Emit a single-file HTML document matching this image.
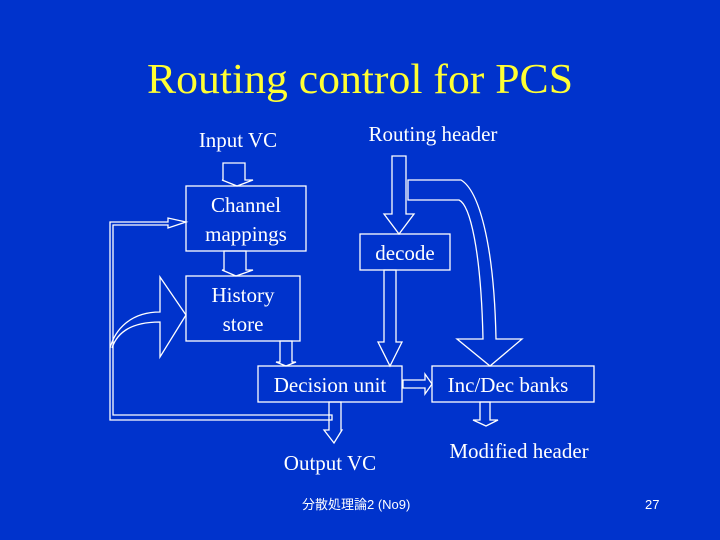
<!DOCTYPE html>
<html><head><meta charset="utf-8"><style>
html,body{margin:0;padding:0;background:#0033cc;width:720px;height:540px;overflow:hidden}
svg{display:block}
text{font-family:"Liberation Serif",serif;fill:#fff}
</style></head><body>
<svg width="720" height="540" viewBox="0 0 720 540">
<rect width="720" height="540" fill="#0033cc"/>
<text x="147" y="93" font-size="42" style="fill:#ffff33" textLength="426" lengthAdjust="spacingAndGlyphs">Routing control for PCS</text>
<g fill="none" stroke="#fff" stroke-width="1.3">
<rect x="186" y="186" width="120" height="65"/>
<rect x="186" y="276" width="114" height="65"/>
<rect x="258" y="366" width="144" height="36"/>
<rect x="360" y="234" width="90" height="36"/>
<rect x="432" y="366" width="162" height="36"/>
<!-- Input arrow -->
<polygon points="223,163 245,163 245,180 253,180 237,186 222,180 223,180"/>
<!-- Channel->History -->
<polygon points="224,251 246,251 246,270 253,270 236,276 222,270 224,270"/>
<!-- History->Decision -->
<polygon points="280,341 292,341 292,362 296,362 286,366 276,362 280,362"/>
<!-- Routing header -> decode -->
<polygon points="392,156 406,156 406,214 414,214 399,234 384,214 392,214"/>
<!-- decode -> Decision -->
<polygon points="384,270 396,270 396,342 402,342 390,366 378,342 384,342"/>
<!-- curved arrow to Inc/Dec -->
<path d="M408,180 L461,180 C478,190 494,240 496,339 L522,339 L490,366 L457,339 L483,339 C481,250 470,205 459,200 L408,200 Z"/>
<!-- Decision -> Inc/Dec -->
<polygon points="403,380 425,380 425,374 432,384 425,394 425,388 403,388"/>
<!-- Decision -> Output -->
<polygon points="329,402 341,402 341,430 342,430 334,443 324,430 329,430"/>
<!-- Inc/Dec -> Modified -->
<polygon points="480,402 490,402 490,420 498,420 486,426 473,420 480,420"/>
<!-- feedback loop -->
<polygon points="110,222 168,222 168,218 186,222 168,228 168,225 113,225 113,415 332,415 332,420 110,420"/>
<!-- curved arrow to history -->
<path d="M110,348 C115,330 130,312 160,312 L160,277 L186,315 L160,357 L160,322 C135,322 118,330 112,348"/>
</g>
<g font-size="21" text-anchor="middle">
<text x="238" y="147">Input VC</text>
<text x="433" y="141">Routing header</text>
<text x="246" y="212">Channel</text>
<text x="246" y="241">mappings</text>
<text x="243" y="302">History</text>
<text x="243" y="331">store</text>
<text x="405" y="260">decode</text>
<text x="330" y="392">Decision unit</text>
<text x="508" y="392">Inc/Dec banks</text>
<text x="330" y="470">Output VC</text>
<text x="519" y="458">Modified header</text>
</g>
<text x="302" y="509" font-size="13" style="font-family:'Liberation Sans','Noto Sans CJK JP',sans-serif">分散処理論2 (No9)</text>
<text x="645" y="509" font-size="13" style="font-family:'Liberation Sans',sans-serif">27</text>
</svg>
</body></html>
